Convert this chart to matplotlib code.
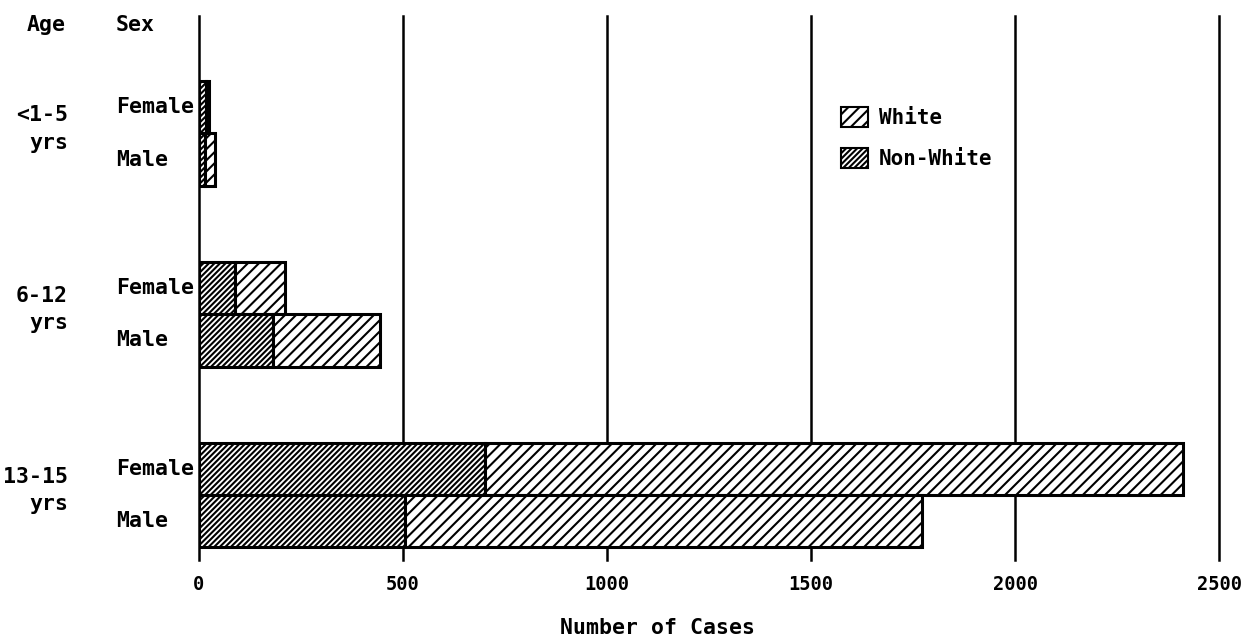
import matplotlib
matplotlib.use('Agg')
import matplotlib.pyplot as plt
from matplotlib.patches import Patch
from matplotlib.transforms import blended_transform_factory
import numpy as np

# data (number of cases)
ages = ['<1-5', '6-12', '13-15']
female_nonwhite = [18, 88, 701]
female_white = [7, 123, 1711]
male_nonwhite = [15, 181, 505]
male_white = [24, 263, 1267]
xticks = [0, 500, 1000, 1500, 2000, 2500]

plt.rcParams['font.family'] = 'DejaVu Sans Mono'
plt.rcParams['font.weight'] = 'bold'
plt.rcParams['hatch.linewidth'] = 1.5

fig = plt.figure(figsize=(12.45, 6.39), dpi=100)
ax = fig.add_axes([199/1245, 1-560/639, 1020/1245, 544/639])

g = np.arange(len(ages))
h = 0.29
yf = g - h/2
ym = g + h/2

for x in xticks:
    ax.axvline(x, color='black', lw=1.8, zorder=1, clip_on=False)

hw = '///'       # white
hn = '//////'    # non-white
kw = dict(height=h, facecolor='white', edgecolor='black', linewidth=2.2, zorder=3)
ax.barh(yf, female_nonwhite, hatch=hn, **kw)
ax.barh(yf, female_white, left=female_nonwhite, hatch=hw, **kw)
ax.barh(ym, male_nonwhite, hatch=hn, **kw)
ax.barh(ym, male_white, left=male_nonwhite, hatch=hw, **kw)

ax.set_xlim(0, 2500)
ax.set_ylim(2.36, -0.65)
for s in ax.spines.values():
    s.set_visible(False)
ax.set_yticks([])
ax.set_xticks(xticks)
ax.set_xticklabels([str(t) for t in xticks], fontsize=13.5, fontweight='bold')
ax.tick_params(axis='x', length=0, pad=11)
ax.set_xlabel('Number of Cases', fontsize=15.5, fontweight='bold', va='center')
ax.xaxis.set_label_coords(0.45, -0.125)

tr = blended_transform_factory(fig.transFigure, ax.transData)
fs = 15.5
for i, a in enumerate(ages):
    ax.text(68/1245, g[i] - 0.10, a, transform=tr, ha='right', va='center', fontsize=fs)
    ax.text(68/1245, g[i] + 0.05, 'yrs', transform=tr, ha='right', va='center', fontsize=fs)
    ax.text(116/1245, yf[i], 'Female', transform=tr, ha='left', va='center', fontsize=fs)
    ax.text(116/1245, ym[i], 'Male', transform=tr, ha='left', va='center', fontsize=fs)

fig.text(66/1245, 1-25/639, 'Age', ha='right', va='center', fontsize=fs)
fig.text(116/1245, 1-25/639, 'Sex', ha='left', va='center', fontsize=fs)

handles = [Patch(facecolor='white', edgecolor='black', hatch=hw, linewidth=1.5, label='White'),
           Patch(facecolor='white', edgecolor='black', hatch=hn, linewidth=1.5, label='Non-White')]
ax.legend(handles=handles, loc='upper left', bbox_to_anchor=(0.629, 0.832), frameon=False,
          fontsize=15, handlelength=1.3, handleheight=1.1, handletextpad=0.55,
          labelspacing=0.95, borderpad=0, borderaxespad=0)

fig.savefig('out.png', dpi=100)
